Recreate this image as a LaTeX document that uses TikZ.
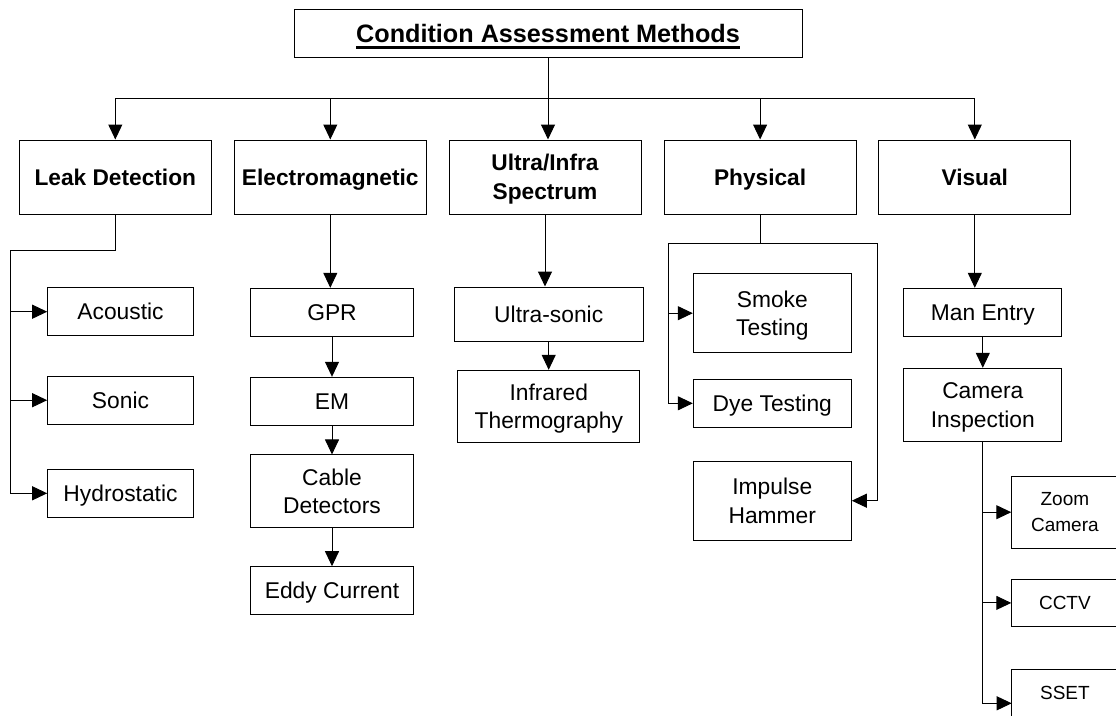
\documentclass[tikz,border=0pt]{standalone}
\usepackage{fontspec}
\setmainfont{Liberation Sans}
\usetikzlibrary{arrows.meta}
\newcommand\titleul[1]{\setbox0\hbox{#1}\rlap{\raisebox{-6.1pt}[0pt][0pt]{\rule{\wd0}{2.2pt}}}\box0}
\newcommand\nd[1]{\raisebox{0pt}[\height][0pt]{#1}}
\tikzset{
  box/.style={draw=black, line width=1pt, inner sep=0pt, align=center},
  hdr/.style={box, font=\bfseries\fontsize{22.7}{29}\selectfont, minimum width=192pt, minimum height=74pt},
  leaf/.style={box, font=\fontsize{22.8}{28.3}\selectfont},
  smallbox/.style={box, font=\fontsize{19}{26}\selectfont},
  ln/.style={line width=1pt},
  arr/.style={line width=1pt, -{Triangle[length=15pt,width=14pt]}},
}
\begin{document}
\begin{tikzpicture}[x=1pt,y=-1pt]
\path[use as bounding box, fill=white] (0,0) rectangle (1116,715);

% title
\node[box, font=\bfseries\fontsize{25.2}{30}\selectfont, minimum width=508pt, minimum height=47.8pt] (title) at (548,33.4) {\titleul{Condition Assessment Methods}};

% level 1
\node[hdr] (leak) at (115.3,177) {Leak Detection};
\node[hdr] (elec) at (330.3,177) {\nd{Electromagnetic}};
\node[hdr] (ultra) at (545,177) {Ultra/Infra\\\nd{Spectrum}};
\node[hdr] (phys) at (760.1,177) {\nd{Physical}};
\node[hdr] (visual) at (974.8,177) {Visual};

% leak detection children
\node[leaf, minimum width=145.6pt, minimum height=48pt] (acoustic) at (120.5,311.7) {Acoustic};
\node[leaf, minimum width=145.6pt, minimum height=48pt] (sonic) at (120.5,400.2) {Sonic};
\node[leaf, minimum width=145.6pt, minimum height=48pt] (hydro) at (120.5,493.3) {\nd{Hydrostatic}};

% electromagnetic children
\node[leaf, minimum width=163.4pt, minimum height=48.4pt] (gpr) at (332,312.5) {GPR};
\node[leaf, minimum width=163.4pt, minimum height=48.4pt] (em) at (332,401.5) {EM};
\node[leaf, minimum width=163.4pt, minimum height=72.7pt] (cable) at (332,491.3) {Cable\\Detectors};
\node[leaf, minimum width=163.4pt, minimum height=47.6pt] (eddy) at (332,590.5) {\nd{Eddy Current}};

% ultra/infra children
\node[leaf, minimum width=188.7pt, minimum height=54pt] (usonic) at (548.7,314) {Ultra-sonic};
\node[leaf, minimum width=182.3pt, minimum height=72.4pt] (infra) at (548.8,406.5) {Infrared\\\nd{Thermography}};

% physical children
\node[leaf, minimum width=158pt, minimum height=79pt] (smoke) at (772.3,313.2) {Smoke\\\nd{Testing}};
\node[leaf, minimum width=158pt, minimum height=48pt] (dye) at (772.3,403.3) {\nd{Dye Testing}};
\node[leaf, minimum width=158pt, minimum height=78.7pt] (impulse) at (772.3,500.7) {Impulse\\Hammer};

% visual children
\node[leaf, minimum width=158.3pt, minimum height=48.4pt] (manentry) at (982.8,312.5) {\nd{Man Entry}};
\node[leaf, minimum width=158.3pt, minimum height=73.4pt] (camins) at (982.8,405) {Camera\\\nd{Inspection}};
\node[smallbox, minimum width=106.3pt, minimum height=72.3pt] (zoomcam) at (1064.9,512.2) {Zoom\\Camera};
\node[smallbox, minimum width=106.3pt, minimum height=47.7pt] (cctv) at (1064.9,602.9) {CCTV};
\node[smallbox, minimum width=106.3pt, minimum height=48pt] (sset) at (1064.9,693.3) {SSET};

% helper coordinates
\coordinate (bus) at (0,98.3);
\coordinate (lkbend) at (10,250.7);
\coordinate (phL) at (668.2,243.3);
\coordinate (phR) at (877.2,243.3);
\coordinate (ssetin) at (1011.7,703.3);

% title to level 1
\draw[ln] (leak.north |- bus) -- (visual.north |- bus);
\draw[arr] (title.south) -- (title.south |- ultra.north);
\draw[arr] (leak.north |- bus) -- (leak.north);
\draw[arr] (elec.north |- bus) -- (elec.north);
\draw[arr] (phys.north |- bus) -- (phys.north);
\draw[arr] (visual.north |- bus) -- (visual.north);

% leak detection
\draw[ln] (leak.south) |- (lkbend) -- (lkbend |- hydro.west);
\draw[arr] (lkbend |- acoustic.west) -- (acoustic.west);
\draw[arr] (lkbend |- sonic.west) -- (sonic.west);
\draw[arr] (lkbend |- hydro.west) -- (hydro.west);

% electromagnetic
\draw[arr] (elec.south) -- (elec.south |- gpr.north);
\draw[arr] (gpr.south) -- (em.north);
\draw[arr] (em.south) -- (cable.north);
\draw[arr] (cable.south) -- (eddy.north);

% ultra / infra
\draw[arr] (ultra.south) -- (ultra.south |- usonic.north);
\draw[arr] (usonic.south) -- (usonic.south |- infra.north);

% physical
\draw[ln] (phys.south) -- (phys.south |- phL);
\draw[ln] (phL) -- (phR);
\draw[arr] (phL) |- (dye.west);
\draw[arr] (phL |- smoke.west) -- (smoke.west);
\draw[arr] (phR) |- (impulse.east);

% visual
\draw[arr] (visual.south) -- (visual.south |- manentry.north);
\draw[arr] (manentry.south) -- (camins.north);
\draw[ln] (camins.south) -- (camins.south |- ssetin);
\draw[arr] (camins.south) |- (zoomcam.west);
\draw[arr] (camins.south) |- (cctv.west);
\draw[arr] (camins.south) |- (ssetin);
\end{tikzpicture}
\end{document}
